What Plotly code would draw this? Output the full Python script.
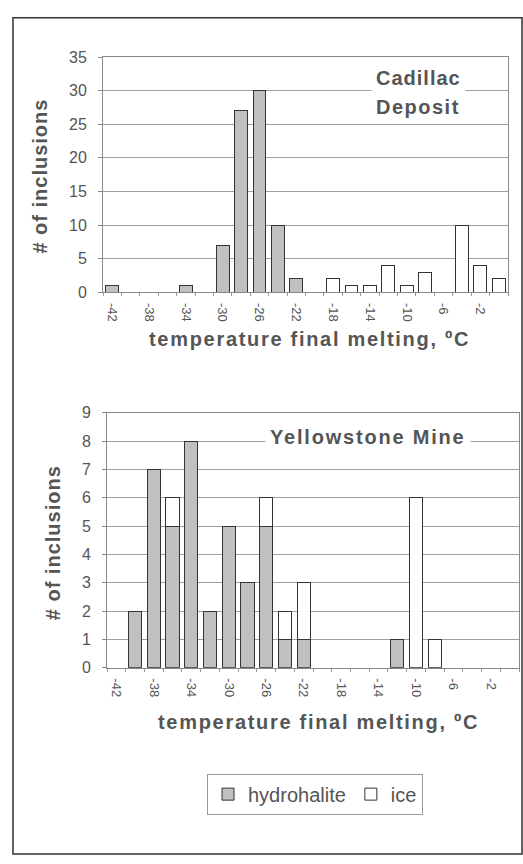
import plotly.graph_objects as go

# temperature bins (°C)
bins = [-42, -40, -38, -36, -34, -32, -30, -28, -26, -24, -22,
        -20, -18, -16, -14, -12, -10, -8, -6, -4, -2, 0]
tick_labels = [-42, -38, -34, -30, -26, -22, -18, -14, -10, -6, -2]

# Cadillac Deposit
cad_hydrohalite = [1, 0, 0, 0, 1, 0, 7, 27, 30, 10, 2, 0, 0, 0, 0, 0, 0, 0, 0, 0, 0, 0]
cad_ice = [0, 0, 0, 0, 0, 0, 0, 0, 0, 0, 0, 0, 2, 1, 1, 4, 1, 3, 0, 10, 4, 2]

# Yellowstone Mine
yel_hydrohalite = [0, 2, 7, 5, 8, 2, 5, 3, 5, 1, 1, 0, 0, 0, 0, 1, 0, 0, 0, 0, 0, 0]
yel_ice = [0, 0, 0, 1, 0, 0, 0, 0, 1, 1, 2, 0, 0, 0, 0, 0, 6, 1, 0, 0, 0, 0]

W, H = 523, 864
FONT = "Liberation Sans, Arial, sans-serif"
TXT = "#555555"
EDGE = "#333333"
HYD = "#c0c0c0"


def nz(vals):
    return [v if v else None for v in vals]


def px(x):
    return x / W


def py(y):
    return 1 - y / H


def spaced(text, sp):
    return f'<span style="letter-spacing:{sp}px"><b>{text}</b></span>'


# category boundaries for the small tick marks under the x axis
boundaries = [b - 1 for b in bins] + [bins[-1] + 1]

fig = go.Figure()

fig.add_trace(go.Bar(x=bins, y=nz(cad_hydrohalite), name="hydrohalite",
                     marker=dict(color=HYD, line=dict(color=EDGE, width=1)),
                     xaxis="x", yaxis="y", showlegend=True))
fig.add_trace(go.Bar(x=bins, y=nz(cad_ice), name="ice",
                     marker=dict(color="white", line=dict(color=EDGE, width=1)),
                     xaxis="x", yaxis="y", showlegend=True))
fig.add_trace(go.Bar(x=bins, y=nz(yel_hydrohalite), name="hydrohalite",
                     marker=dict(color=HYD, line=dict(color=EDGE, width=1)),
                     xaxis="x2", yaxis="y2", showlegend=False))
fig.add_trace(go.Bar(x=bins, y=nz(yel_ice), name="ice",
                     marker=dict(color="white", line=dict(color=EDGE, width=1)),
                     xaxis="x2", yaxis="y2", showlegend=False))

xcommon = dict(range=[-43, 1], tickvals=tick_labels, ticktext=[str(t) for t in tick_labels],
               tickangle=90, tickfont=dict(family=FONT, size=13, color=TXT),
               ticklabelstandoff=7,
               showgrid=False, showline=True, linecolor="#888888", linewidth=1,
               mirror=True, ticks="", zeroline=False,
               minor=dict(tickvals=boundaries, ticks="outside", ticklen=3,
                          tickcolor="#999999", showgrid=False))
ycommon = dict(showgrid=True, gridcolor="#a0a0a0", gridwidth=1,
               tickfont=dict(family=FONT, size=16, color=TXT),
               ticklabelstandoff=8,
               showline=True, linecolor="#888888", linewidth=1, mirror=True,
               ticks="outside", ticklen=4, tickcolor="#888888", zeroline=False)

fig.update_layout(
    width=W, height=H,
    margin=dict(l=0, r=0, t=0, b=0),
    paper_bgcolor="white", plot_bgcolor="white",
    barmode="stack", bargap=0.3,
    font=dict(family=FONT, color=TXT),
    xaxis=dict(domain=[px(103), px(508)], anchor="y", **xcommon),
    yaxis=dict(domain=[py(290), py(50)], anchor="x", range=[0, 35], dtick=5, **ycommon),
    xaxis2=dict(domain=[px(107), px(519)], anchor="y2", **xcommon),
    yaxis2=dict(domain=[py(673), py(413)], anchor="x2", range=[0, 9], dtick=1, **ycommon),
    legend=dict(orientation="h", x=px(207), y=py(781), xanchor="left", yanchor="top",
                bordercolor="#999999", borderwidth=1, bgcolor="white", itemwidth=30,
                font=dict(family=FONT, size=20, color=TXT), traceorder="normal"),
)

annots = [
    dict(text=spaced("Cadillac", 1), x=px(418), y=py(71)),
    dict(text=spaced("Deposit", 1.5), x=px(418), y=py(101)),
    dict(text=spaced("Yellowstone Mine", 1.8), x=px(368), y=py(438)),
]
for a in annots:
    fig.add_annotation(xref="paper", yref="paper", x=a["x"], y=a["y"], text=a["text"],
                       xanchor="center", yanchor="middle",
                       showarrow=False, bgcolor="white", borderpad=4,
                       font=dict(family=FONT, size=20, color=TXT))

title_x = spaced("temperature final melting, ºC", 1.7)
title_y = spaced("# of inclusions", 1)
for x, y in [(309, 338), (318, 728)]:
    fig.add_annotation(xref="paper", yref="paper", x=px(x), y=py(y), text=title_x,
                       xanchor="center", yanchor="middle", showarrow=False,
                       font=dict(family=FONT, size=20, color=TXT))
for x, y in [(40, 172), (53, 546)]:
    fig.add_annotation(xref="paper", yref="paper", x=px(x), y=py(y), text=title_y,
                       xanchor="center", yanchor="middle", showarrow=False, textangle=-90,
                       font=dict(family=FONT, size=20, color=TXT))

fig.add_shape(type="rect", xref="paper", yref="paper",
              x0=px(13), x1=px(522), y0=py(863), y1=py(10),
              line=dict(color=EDGE, width=1.5), fillcolor="rgba(0,0,0,0)", layer="below")

fig.write_html("out.html")
